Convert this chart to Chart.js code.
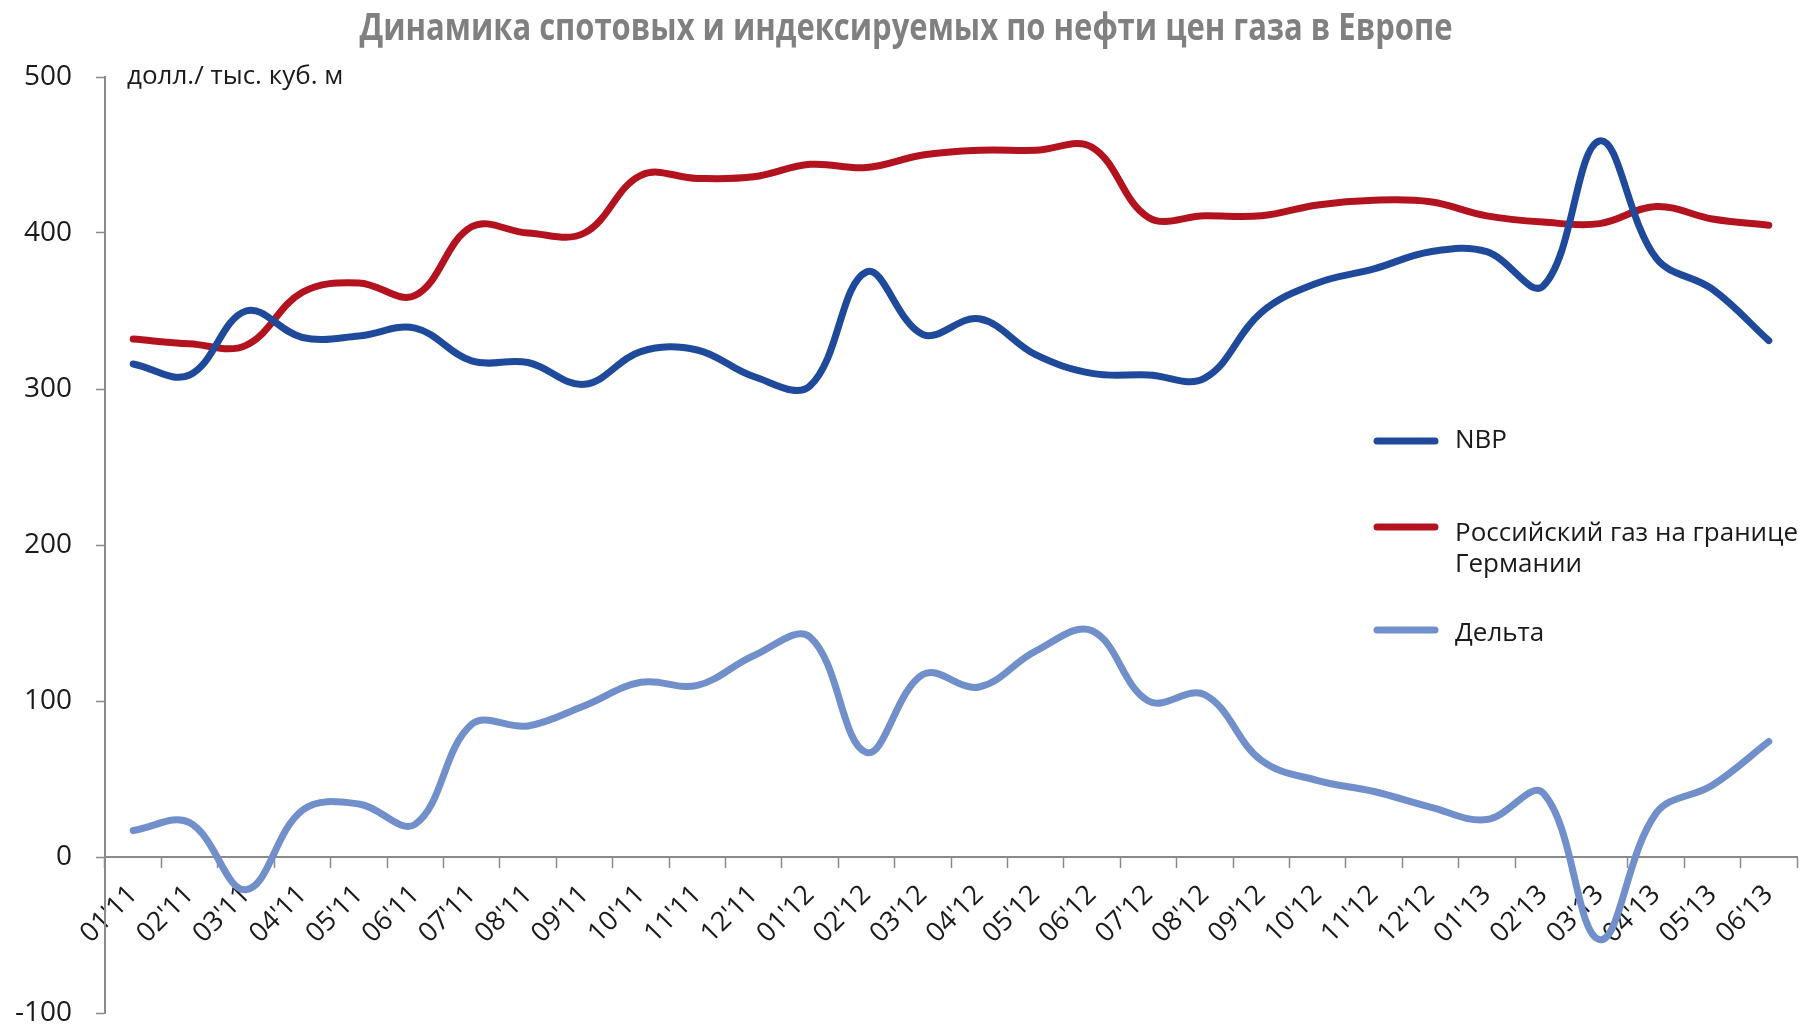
<!DOCTYPE html>
<html lang="ru">
<head>
<meta charset="utf-8">
<title>Динамика спотовых и индексируемых по нефти цен газа в Европе</title>
<script src="https://cdn.jsdelivr.net/npm/chart.js@4.4.1/dist/chart.umd.min.js"></script>
<style>
    html, body { margin: 0; padding: 0; background: #ffffff; }
    canvas { display: block; }
</style>
</head>
<body>
<canvas id="gasChart" width="1805" height="1024"></canvas>
<script>
// months on the x axis
const months = [
    "01'11", "02'11", "03'11", "04'11", "05'11", "06'11", "07'11", "08'11", "09'11", "10'11", "11'11", "12'11",
    "01'12", "02'12", "03'12", "04'12", "05'12", "06'12", "07'12", "08'12", "09'12", "10'12", "11'12", "12'12",
    "01'13", "02'13", "03'13", "04'13", "05'13", "06'13"
];

// prices, USD per thousand cubic metres
const nbp = [316, 309, 350, 333, 334, 339, 318, 317, 303, 324, 325, 308,
             302, 375, 335, 345, 322, 310, 309, 307, 349, 368, 377, 388,
             388, 366, 459, 384, 364, 331];
const russianGas = [332, 329, 328, 362, 368, 360, 404, 400, 400, 437, 435, 436,
                    444, 442, 450, 453, 453, 455, 410, 411, 411, 418, 421, 420,
                    411, 407, 406, 417, 409, 405];
const delta = [17, 22, -21, 30, 34, 21, 85, 84, 97, 112, 110, 129,
               141, 67, 117, 109, 132, 145, 100, 104, 62, 49, 42, 32,
               24, 41, -53, 28, 46, 74];

const yMin = -100;
const yMax = 500;
const yStep = 100;

const chartTitle = 'Динамика спотовых и индексируемых по нефти цен газа в Европе';
const unitLabel = 'долл./ тыс. куб. м';
const seriesNames = ['NBP', 'Российский газ на границе\nГермании', 'Дельта'];

const textFont = "'Open Sans', 'Noto Sans', sans-serif";
const axisGrey = '#8a8a8a';

// title (condensed look), units label and the legend inside the plot
const textLayer = {
    id: 'textLayer',
    afterDraw(chart) {
        const c = chart.ctx;
        c.save();

        // title, squeezed horizontally like a narrow bold face
        c.font = 'bold 37px ' + textFont;
        c.fillStyle = '#808080';
        c.textAlign = 'center';
        c.textBaseline = 'middle';
        const w = c.measureText(chartTitle).width;
        const squeeze = Math.min(1, 1093 / w);
        c.save();
        c.translate(906, 29);
        c.scale(squeeze, 1);
        c.fillText(chartTitle, 0, 0);
        c.restore();

        c.textAlign = 'left';
        c.fillStyle = '#1a1a1a';

        // units in the top left corner
        c.font = '26px ' + textFont;
        c.fillText(unitLabel, chart.chartArea.left + 22, chart.chartArea.top);

        const markerY = [441, 527, 630];
        const textY = [441, 534, 634];
        c.font = '26px ' + textFont;
        chart.data.datasets.forEach((ds, i) => {
            c.strokeStyle = ds.borderColor;
            c.lineWidth = 7;
            c.lineCap = 'round';
            c.beginPath();
            c.moveTo(1377, markerY[i]);
            c.lineTo(1435, markerY[i]);
            c.stroke();
            ds.label.split('\n').forEach((line, k) => {
                c.fillText(line, 1455, textY[i] + k * 31);
            });
        });
        c.restore();
    }
};

const ctx = document.getElementById('gasChart').getContext('2d');

window.gasChart = new Chart(ctx, {
    type: 'line',
    data: {
        labels: months,
        datasets: [
            {
                label: seriesNames[0],
                data: nbp,
                borderColor: '#1f4a9c',
                borderWidth: 7
            },
            {
                label: seriesNames[1],
                data: russianGas,
                borderColor: '#b3131f',
                borderWidth: 7
            },
            {
                label: seriesNames[2],
                data: delta,
                borderColor: '#7190cb',
                borderWidth: 7
            }
        ]
    },
    options: {
        responsive: false,
        animation: false,
        devicePixelRatio: 1,
        layout: {
            padding: { left: 0, right: 8, top: 77, bottom: 11 }
        },
        elements: {
            line: { tension: 0.38, borderCapStyle: 'round', borderJoinStyle: 'round', fill: false },
            point: { radius: 0, hoverRadius: 0 }
        },
        scales: {
            x: {
                type: 'category',
                position: { y: 0 },
                offset: true,
                grid: {
                    offset: true,
                    drawOnChartArea: false,
                    drawTicks: true,
                    tickLength: 10,
                    tickColor: axisGrey,
                    tickWidth: 1.5
                },
                border: { color: axisGrey, width: 2 },
                ticks: {
                    autoSkip: false,
                    minRotation: 45,
                    maxRotation: 45,
                    padding: 12,
                    color: '#1a1a1a',
                    font: { family: textFont, size: 27 }
                },
                afterFit(scale) {
                    scale.paddingLeft = 0;
                    scale.paddingRight = 0;
                }
            },
            y: {
                position: 'left',
                min: yMin,
                max: yMax,
                grid: {
                    drawOnChartArea: false,
                    drawTicks: true,
                    tickLength: 9,
                    tickColor: axisGrey,
                    tickWidth: 1.5
                },
                border: { color: axisGrey, width: 2 },
                ticks: {
                    stepSize: yStep,
                    padding: 24,
                    color: '#1a1a1a',
                    font: { family: textFont, size: 28 }
                },
                afterFit(scale) {
                    scale.width = 105;
                    scale.paddingTop = 0;
                    scale.paddingBottom = 0;
                }
            }
        },
        plugins: {
            legend: { display: false },
            tooltip: { enabled: false },
            title: { display: false }
        }
    },
    plugins: [textLayer]
});
</script>
</body>
</html>
